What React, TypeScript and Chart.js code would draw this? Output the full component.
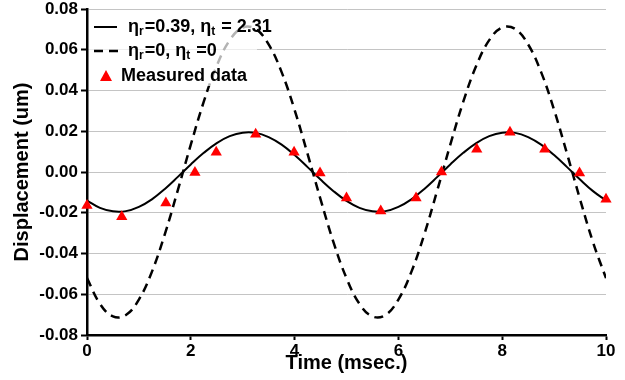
import React, { useEffect, useRef } from 'react';
import { Chart, registerables } from 'chart.js';

Chart.register(...registerables);

// Time axis samples (msec.)
const TIME = [
  0, 0.25, 0.5, 0.75, 1, 1.25, 1.5, 1.75, 2, 2.25, 2.5, 2.75, 3, 3.25, 3.5, 3.75, 4, 4.25, 4.5, 4.75,
  5, 5.25, 5.5, 5.75, 6, 6.25, 6.5, 6.75, 7, 7.25, 7.5, 7.75, 8, 8.25, 8.5, 8.75, 9, 9.25, 9.5, 9.75, 10,
];

// ηr=0.39, ηt=2.31 (solid)
const SOLID = [
  -0.0140, -0.0176, -0.0193, -0.0192, -0.0171, -0.0134, -0.0083, -0.0024, 0.0037, 0.0094,
  0.0142, 0.0176, 0.0193, 0.0192, 0.0171, 0.0134, 0.0083, 0.0024, -0.0037, -0.0094,
  -0.0142, -0.0176, -0.0193, -0.0192, -0.0171, -0.0134, -0.0083, -0.0024, 0.0037, 0.0094,
  0.0142, 0.0176, 0.0193, 0.0192, 0.0171, 0.0134, 0.0083, 0.0024, -0.0037, -0.0094,
  -0.0140,
];

// ηr=0, ηt=0 (dashed)
const DASHED = [
  -0.0521, -0.0647, -0.0709, -0.0702, -0.0626, -0.0490, -0.0305, -0.0089, 0.0134, 0.0345,
  0.0521, 0.0647, 0.0709, 0.0702, 0.0626, 0.0490, 0.0305, 0.0089, -0.0134, -0.0345,
  -0.0521, -0.0647, -0.0709, -0.0702, -0.0626, -0.0490, -0.0305, -0.0089, 0.0134, 0.0345,
  0.0521, 0.0647, 0.0709, 0.0702, 0.0626, 0.0490, 0.0305, 0.0089, -0.0134, -0.0345,
  -0.0521,
];

// Measured data (red triangles)
const MEAS_T = [0, 0.67, 1.52, 2.08, 2.49, 3.25, 3.99, 4.49, 5.0, 5.66, 6.34, 6.83, 7.51, 8.15, 8.82, 9.49, 10];
const MEAS_D = [
  -0.0164, -0.0220, -0.0152, -0.0002, 0.0097, 0.0185, 0.0097, -0.0005, -0.0128, -0.0192, -0.0128,
  0.0, 0.0112, 0.0195, 0.0112, -0.0005, -0.0134,
];

const X_MIN = 0;
const X_MAX = 10;
const X_STEP = 2;
const Y_MIN = -0.08;
const Y_MAX = 0.08;
const Y_STEP = 0.02;

const X_TITLE = 'Time (msec.)';
const Y_TITLE = 'Displacement (um)';

type Run = { t: string; sub?: boolean };
const LEGEND_SOLID: Run[] = [{ t: 'η' }, { t: 'r', sub: true }, { t: '=0.39, η' }, { t: 't', sub: true }, { t: ' = 2.31' }];
const LEGEND_DASHED: Run[] = [{ t: 'η' }, { t: 'r', sub: true }, { t: '=0, η' }, { t: 't', sub: true }, { t: ' =0' }];
const LEGEND_MEAS: Run[] = [{ t: 'Measured data' }];

const FAMILY = '"Liberation Sans", Arial, sans-serif';

function drawRuns(ctx: CanvasRenderingContext2D, runs: Run[], x: number, y: number) {
  let cx = x;
  for (const r of runs) {
    if (r.sub) {
      ctx.font = `bold 12px ${FAMILY}`;
      ctx.fillText(r.t, cx, y + 5);
    } else {
      ctx.font = `bold 18px ${FAMILY}`;
      ctx.fillText(r.t, cx, y);
    }
    cx += ctx.measureText(r.t).width + (r.sub ? 1 : 0);
  }
}

const legendPlugin = {
  id: 'customLegend',
  afterDatasetsDraw(chart: any) {
    const ctx: CanvasRenderingContext2D = chart.ctx;
    const a = chart.chartArea;
    const L = a.left;
    ctx.save();
    ctx.fillStyle = 'rgba(255,255,255,0.7)';
    ctx.fillRect(L + 2, 14, 168, 72);
    ctx.fillStyle = '#000';
    ctx.strokeStyle = '#000';
    ctx.textBaseline = 'middle';
    ctx.textAlign = 'left';
    // solid
    ctx.lineWidth = 2;
    ctx.setLineDash([]);
    ctx.beginPath();
    ctx.moveTo(L + 7, 27);
    ctx.lineTo(L + 30, 27);
    ctx.stroke();
    drawRuns(ctx, LEGEND_SOLID, L + 41, 27);
    // dashed
    ctx.lineWidth = 2.5;
    ctx.setLineDash([9, 6]);
    ctx.beginPath();
    ctx.moveTo(L + 7, 51);
    ctx.lineTo(L + 31, 51);
    ctx.stroke();
    ctx.setLineDash([]);
    drawRuns(ctx, LEGEND_DASHED, L + 41, 51);
    // triangle
    ctx.fillStyle = '#ff0000';
    ctx.beginPath();
    ctx.moveTo(L + 19, 70);
    ctx.lineTo(L + 25, 81);
    ctx.lineTo(L + 13, 81);
    ctx.closePath();
    ctx.fill();
    ctx.fillStyle = '#000';
    drawRuns(ctx, LEGEND_MEAS, L + 34, 76);
    ctx.restore();
  },
};

export default function App() {
  const ref = useRef<HTMLCanvasElement | null>(null);
  useEffect(() => {
    if (!ref.current) return;
    const tickFont = { family: FAMILY, size: 17, weight: 'bold' as const };
    const titleFont = { family: FAMILY, size: 20, weight: 'bold' as const };
    const chart = new Chart(ref.current, {
      type: 'line',
      data: {
        datasets: [
          {
            type: 'scatter',
            label: 'Measured data',
            data: MEAS_T.map((t, i) => ({ x: t, y: MEAS_D[i] })),
            pointStyle: 'triangle',
            pointRadius: 6.5,
            backgroundColor: '#ff0000',
            borderColor: '#ff0000',
            borderWidth: 0,
            showLine: false,
            clip: false,
            order: 0,
          } as any,
          {
            label: 'solid',
            data: TIME.map((t, i) => ({ x: t, y: SOLID[i] })),
            borderColor: '#000',
            borderWidth: 2,
            pointRadius: 0,
            tension: 0.4,
            fill: false,
            order: 1,
          },
          {
            label: 'dashed',
            data: TIME.map((t, i) => ({ x: t, y: DASHED[i] })),
            borderColor: '#000',
            borderWidth: 2.5,
            borderDash: [9, 6],
            pointRadius: 0,
            tension: 0.4,
            fill: false,
            order: 2,
          },
        ],
      },
      options: {
        animation: false,
        responsive: false,
        layout: { padding: { top: 9, right: 19, left: 0, bottom: 0 } },
        plugins: { legend: { display: false }, tooltip: { enabled: false } },
        scales: {
          x: {
            type: 'linear',
            min: X_MIN,
            max: X_MAX,
            ticks: { stepSize: X_STEP, font: tickFont, color: '#000', padding: 1, maxRotation: 0 },
            grid: { drawOnChartArea: false, tickLength: 5, tickWidth: 2, tickColor: '#000' },
            border: { color: '#000', width: 2.5 },
            title: { display: true, text: X_TITLE, font: titleFont, color: '#000', padding: { top: 0, bottom: 5 } },
            afterFit: (s: any) => {
              s.height = 45;
              s.paddingLeft = 0;
              s.paddingRight = 0;
            },
          },
          y: {
            type: 'linear',
            min: Y_MIN,
            max: Y_MAX,
            ticks: {
              stepSize: Y_STEP,
              font: tickFont,
              color: '#000',
              padding: 3,
              callback: (v: any) => (Math.abs(Number(v)) < 1e-9 ? '0.00' : Number(v).toFixed(2)),
            },
            grid: { color: '#c4c4c4', lineWidth: 1, tickLength: 6, tickWidth: 2, tickColor: '#000' },
            border: { color: '#000', width: 2.5 },
            title: { display: true, text: Y_TITLE, font: titleFont, color: '#000', padding: { top: 10, bottom: 0 } },
            afterFit: (s: any) => {
              s.width = 87;
              s.paddingTop = 0;
              s.paddingBottom = 0;
            },
          },
        },
      },
      plugins: [legendPlugin],
    });
    return () => chart.destroy();
  }, []);
  return (
    <div style={{ position: 'absolute', left: 0, top: 0, width: 625, height: 380, background: '#fff' }}>
      <canvas ref={ref} width={625} height={380} style={{ display: 'block' }} />
    </div>
  );
}
